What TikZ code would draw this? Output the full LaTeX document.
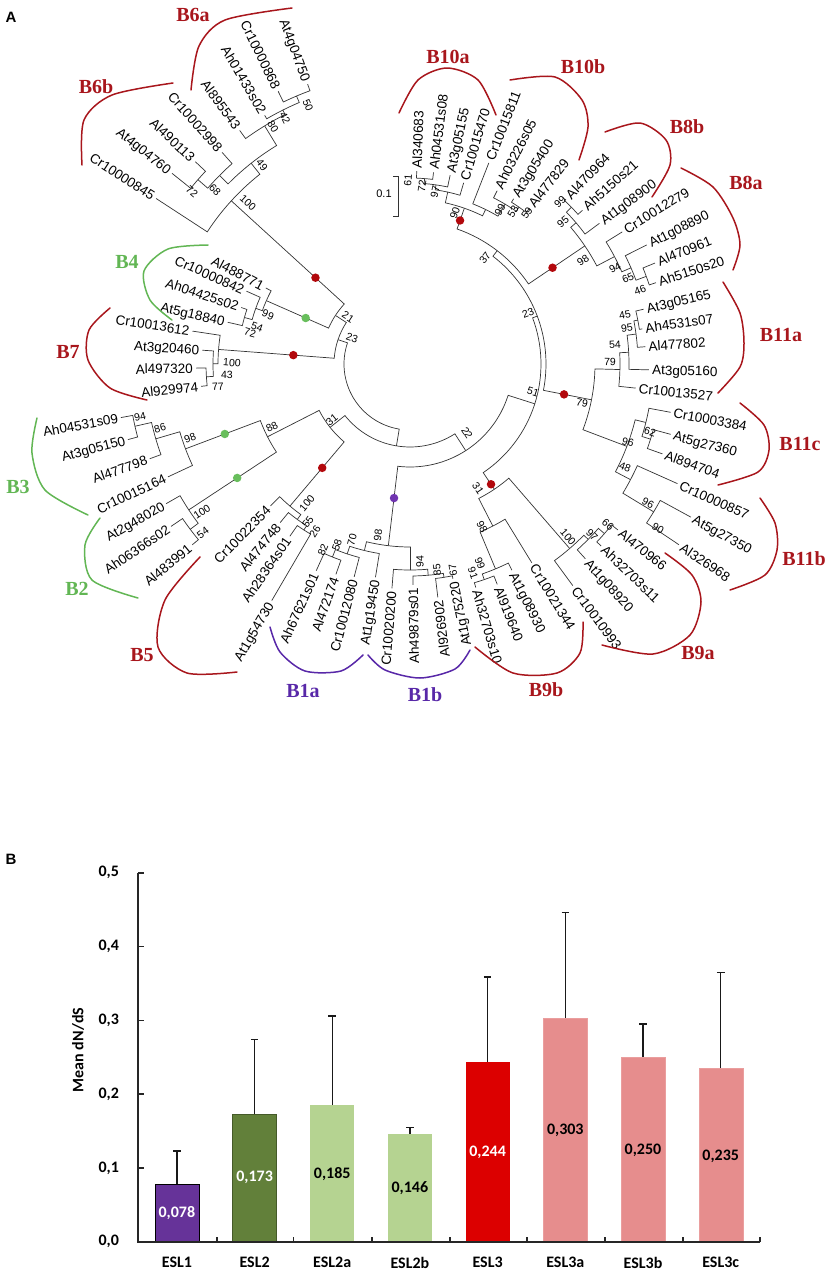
\documentclass[tikz,border=0pt]{standalone}
\usepackage{fontspec}
\setmainfont{Liberation Sans}
\newfontfamily\cladefont{Liberation Serif}
\newfontfamily\calib{Carlito}
\usetikzlibrary{calc}
\definecolor{cred}{RGB}{168,22,28}
\definecolor{cgreen}{RGB}{98,182,84}
\definecolor{cpurple}{RGB}{88,40,168}
\definecolor{dred}{RGB}{178,8,12}
\definecolor{dgreen}{RGB}{104,190,92}
\definecolor{dpurple}{RGB}{112,52,176}
\definecolor{bpurple}{RGB}{102,51,153}
\definecolor{bdgreen}{RGB}{98,128,58}
\definecolor{blgreen}{RGB}{181,211,145}
\definecolor{bred}{RGB}{220,0,0}
\definecolor{bpink}{RGB}{230,141,141}
\tikzset{
 br/.style={line width=0.7pt, draw=black!80},
 leaf/.style={font=\fontsize{13.5}{14}\selectfont, inner sep=1pt, text height=9.7pt, text depth=0pt},
 bs/.style={font=\fontsize{10.5}{11}\selectfont, inner sep=0pt},
 clade/.style={font=\cladefont\bfseries\fontsize{20}{21}\selectfont},
 brk/.style={line width=1.5pt, line cap=round},
 dot/.style={circle, inner sep=0pt, minimum size=8.5pt},
 ax/.style={line width=1.6pt, draw=black!85},
 bl/.style={font=\calib\bfseries\fontsize{16}{16}\selectfont},
 ebar/.style={line width=1.4pt, draw=black!90},
}
% parent theta, parent r, child theta, child r (theta clockwise from top)
\newcommand\tbr[4]{\draw[br] ({#1-90}:#2) arc[start angle={#1-90}, end angle={#3-90}, radius=#2] -- ({#3-90}:#4);}
\begin{document}
\begin{tikzpicture}[x=1pt,y=-1pt]
\useasboundingbox (0,0) rectangle (835,1272);
\node[font=\bfseries\fontsize{15}{15}\selectfont] (pA) at (11,17) {A};
\node[font=\bfseries\fontsize{15}{15}\selectfont] (pB) at (11,859) {B};

\begin{scope}[shift={(410,364)}]
% ---- B10
\tbr{4.5}{186}{2}{193}\tbr{4.5}{186}{7}{193}
\tbr{8.25}{181}{4.5}{186}\tbr{8.25}{181}{12}{193}
\tbr{12.375}{176}{8.25}{181}\tbr{12.375}{176}{16.5}{189}
\tbr{34.8}{191}{32.1}{195}\tbr{34.8}{191}{37.5}{196}
\tbr{30.75}{186}{26.7}{194}\tbr{30.75}{186}{34.8}{191}
\tbr{26.075}{172}{21.4}{216}\tbr{26.075}{172}{30.75}{186}
\tbr{19.225}{165}{12.375}{176}\tbr{19.225}{165}{26.075}{172}
% ---- B8
\tbr{45.85}{225}{43.4}{227}\tbr{45.85}{225}{48.3}{231}
\tbr{49.625}{218}{45.85}{225}\tbr{49.625}{218}{53.4}{236}
\tbr{69.65}{252}{67.6}{265}\tbr{69.65}{252}{71.7}{259}
\tbr{66.475}{241}{63.3}{265}\tbr{66.475}{241}{69.65}{252}
\tbr{62.29}{231}{58.1}{250}\tbr{62.29}{231}{66.475}{241}
\tbr{55.96}{211}{49.625}{218}\tbr{55.96}{211}{62.29}{231}
\tbr{37.59}{143}{19.225}{165}\tbr{37.59}{143}{55.96}{211}
% ---- B11
\tbr{79.1}{232}{76.8}{240}\tbr{79.1}{232}{81.4}{235}
\tbr{82.45}{228}{79.1}{232}\tbr{82.45}{228}{85.8}{236}
\tbr{86.925}{219}{82.45}{228}\tbr{86.925}{219}{91.4}{239}
\tbr{91.51}{210}{86.925}{219}\tbr{91.51}{210}{96.1}{227}
\tbr{107.35}{252}{105.1}{270}\tbr{107.35}{252}{109.6}{268}
\tbr{103.925}{243}{100.5}{265}\tbr{103.925}{243}{107.35}{252}
\tbr{121.25}{285}{118.6}{320}\tbr{121.25}{285}{123.9}{324}
\tbr{117.675}{249}{114.1}{293}\tbr{117.675}{249}{121.25}{285}
\tbr{110.8}{232}{103.925}{243}\tbr{110.8}{232}{117.675}{249}
\tbr{101.155}{185}{91.51}{210}\tbr{101.155}{185}{110.8}{232}
\tbr{69.37}{136}{37.59}{143}\tbr{69.37}{136}{101.155}{185}
% ---- B9
\tbr{131.1}{258}{128.6}{266}\tbr{131.1}{258}{133.6}{264}
\tbr{134.55}{250}{131.1}{258}\tbr{134.55}{250}{138}{262}
\tbr{139.125}{244}{134.55}{250}\tbr{139.125}{244}{143.7}{275}
\tbr{161}{228}{158.4}{237}\tbr{161}{228}{163.6}{233}
\tbr{157.35}{222}{153.7}{230}\tbr{157.35}{222}{161}{228}
\tbr{152.925}{182}{148.5}{233}\tbr{152.925}{182}{157.35}{222}
\tbr{146.025}{151}{139.125}{244}\tbr{146.025}{151}{152.925}{182}
\tbr{107.7}{131}{69.37}{136}\tbr{107.7}{131}{146.025}{151}
% ---- B1
\tbr{170.95}{216}{168.7}{219}\tbr{170.95}{216}{173.2}{235}
\tbr{175.075}{212}{170.95}{216}\tbr{175.075}{212}{179.2}{221}
\tbr{179.84}{206}{175.075}{212}\tbr{179.84}{206}{184.6}{225}
\tbr{201.9}{208}{199.4}{223}\tbr{201.9}{208}{204.4}{227}
\tbr{198.3}{200}{194.7}{220}\tbr{198.3}{200}{201.9}{208}
\tbr{193.75}{192}{189.2}{216}\tbr{193.75}{192}{198.3}{200}
\tbr{186.8}{183}{179.84}{206}\tbr{186.8}{183}{193.75}{192}
\tbr{147.25}{103}{107.7}{131}\tbr{147.25}{103}{186.8}{183}
% ---- B5
\tbr{212.6}{197}{210.3}{274}\tbr{212.6}{197}{214.9}{210}
\tbr{215.95}{192}{219.3}{205}\tbr{215.95}{192}{212.6}{197}
\tbr{220.2}{186}{224.5}{199}\tbr{220.2}{186}{215.95}{192}
% ---- B2 / B3
\tbr{233.05}{275}{230.3}{283}\tbr{233.05}{275}{235.8}{289}
\tbr{236.6}{265}{240.2}{281}\tbr{236.6}{265}{233.05}{275}
\tbr{257.25}{282}{255}{292}\tbr{257.25}{282}{259.5}{294}
\tbr{253.6}{265}{250}{277}\tbr{253.6}{265}{257.25}{282}
\tbr{249.3}{240}{245}{267}\tbr{249.3}{240}{253.6}{265}
\tbr{242.95}{160}{236.6}{265}\tbr{242.95}{160}{249.3}{240}
\tbr{231.6}{102}{220.2}{186}\tbr{231.6}{102}{242.95}{160}
\tbr{189.4}{83}{147.25}{103}\tbr{189.4}{83}{231.6}{102}
% ---- B7
\tbr{266.4}{204}{263.9}{210}\tbr{266.4}{204}{268.9}{214}
\tbr{270.1}{197}{273.8}{208}\tbr{270.1}{197}{266.4}{204}
\tbr{274.35}{192}{278.6}{220}\tbr{274.35}{192}{270.1}{197}
% ---- B4
\tbr{285.7}{172}{282.9}{187}\tbr{285.7}{172}{288.5}{178}
\tbr{289.85}{164}{294}{179}\tbr{289.85}{164}{285.7}{172}
\tbr{293.8}{157}{297.8}{163}\tbr{293.8}{157}{289.85}{164}
% ---- B6
\tbr{311}{281}{308.7}{305}\tbr{311}{281}{313.3}{295}
\tbr{314.7}{268}{311}{281}\tbr{314.7}{268}{318.4}{283}
\tbr{337.05}{291}{334.2}{303}\tbr{337.05}{291}{339.9}{298}
\tbr{333.4}{284}{329.7}{288}\tbr{333.4}{284}{337.05}{291}
\tbr{328.6}{279}{323.9}{289}\tbr{328.6}{279}{333.4}{284}
\tbr{321.65}{256}{314.7}{268}\tbr{321.65}{256}{328.6}{279}
\tbr{312.4}{242}{303.1}{303}\tbr{312.4}{242}{321.65}{256}
\tbr{303.1}{89}{293.8}{157}\tbr{303.1}{89}{312.4}{242}
\tbr{288.7}{76}{274.35}{192}\tbr{288.7}{76}{303.1}{89}
\tbr{239}{66}{189.4}{83}\tbr{239}{66}{288.7}{76}

% ---- dots
\node[dot, fill=dred] (d1) at ({19.225-90}:152) {};
\node[dot, fill=dred] (d2) at ({55.96-90}:172) {};
\node[dot, fill=dred] (d3) at ({101.155-90}:157) {};
\node[dot, fill=dred] (d4) at ({146.025-90}:145) {};
\node[dot, fill=dpurple] (d5) at ({186.8-90}:135) {};
\node[dot, fill=dred] (d6) at ({220.2-90}:136) {};
\node[dot, fill=dgreen] (d7) at ({236.6-90}:207) {};
\node[dot, fill=dgreen] (d8) at ({249.3-90}:198) {};
\node[dot, fill=dred] (d9) at ({274.35-90}:117) {};
\node[dot, fill=dgreen] (d10) at ({293.8-90}:114) {};
\node[dot, fill=dred] (d11) at ({312.4-90}:128) {};

% ---- leaf labels
\foreach \t/\r/\s [count=\i from 0] in {
2/196/Al340683, 7/196/Ah04531s08, 12/196/At3g05155, 16.5/192/Cr10015470,
21.4/219/Cr10015811, 26.7/197/Ah03226s05, 32.1/198/At3g05400, 37.5/199/Al477829,
43.4/230/Al470964, 48.3/234/Ah5150s21, 53.4/239/At1g08900,
58.1/253/Cr10012279, 63.3/268/At1g08890, 67.6/268/Al470961, 71.7/262/Ah5150s20,
76.8/243/At3g05165, 81.4/238/Ah4531s07, 85.8/239/Al477802, 91.4/242/At3g05160, 96.1/230/Cr10013527,
100.5/268/Cr10003384, 105.1/273/At5g27360, 109.6/271/Al894704,
114.1/296/Cr10000857, 118.6/323/At5g27350, 123.9/327/Al326968,
128.6/269/Al470966, 133.6/267/Ah32703s11, 138/265/At1g08920, 143.7/278/Cr10010993,
148.5/236/Cr10021344, 153.7/233/At1g08930, 158.4/240/Al919640, 163.6/236/Ah32703s10,
168.7/222/At1g75220, 173.2/238/Al926902, 179.2/224/Ah49879s01, 184.6/228/Cr10020200,
189.2/219/At1g19450, 194.7/223/Cr10012080, 199.4/226/Al472174, 204.4/230/Ah67621s01,
210.3/277/At1g54730, 214.9/213/Ah28364s01, 219.3/208/Al474748, 224.5/202/Cr10022354,
230.3/286/Al483991, 235.8/292/Ah06366s02, 240.2/284/At2g48020,
245/270/Cr10015164, 250/280/Al477798, 255/295/At3g05150, 259.5/297/Ah04531s09,
263.9/213/Al929974, 268.9/217/Al497320, 273.8/211/At3g20460, 278.6/223/Cr10013612,
282.9/190/At5g18840, 288.5/181/Ah04425s02, 294/182/Cr10000842, 297.8/166/Al488771,
303.1/306/Cr10000845, 308.7/308/At4g04760, 313.3/298/Al490113, 318.4/286/Cr10002998,
323.9/292/Al895543, 329.7/291/Ah01433s02, 334.2/306/Cr10000868, 339.9/301/At4g04750}{
  \pgfmathsetmacro\a{\t-90}
  \pgfmathsetmacro\rr{\r-1}
  \ifdim \t pt<165pt
    \pgfmathsetmacro\rot{90-\t}
    \node[leaf, anchor=west, rotate=\rot] (L\i) at (\a:\rr) {\s};
  \else
    \pgfmathsetmacro\rot{270-\t}
    \node[leaf, anchor=east, rotate=\rot] (L\i) at (\a:\rr) {\s};
  \fi
}
\end{scope}

% ---- bootstrap values
\foreach \x/\y/\t/\v [count=\j] in {
408/180/4.5/61, 422/186/8.25/72, 435/192/12.4/97, 455/213/19.2/90, 500/210/26.1/99, 513/212/30.75/53, 527/213/34.8/59,
560/202/45.85/99, 563/222/49.6/95, 583/260/56/98, 615/268/62.3/94, 628/278/66.5/65, 640/290/69.65/46,
485/258/37.6/37, 528/313/69.4/23,
625/315/79.1/45, 627/328/82.45/95, 615/345/86.9/54, 610/362/91.5/79, 582/403/101.2/79, 533/392/107.7/51,
650/432/107.35/62, 628/442/103.9/96, 625/467/110.8/48, 648/503/117.7/96, 658/528/121.25/90,
467/433/147.25/22, 478/488/146/31, 482/527/152.9/98, 568/537/139.1/100, 592/535/134.55/97, 608/525/131.1/66, 480/563/157.35/99, 473/573/161/91,
378/535/186.8/98, 420/562/179.8/94, 437/570/175.1/85, 453/570/170.95/67, 323/550/201.9/82, 337/545/198.3/58, 352/540/193.75/70,
307/503/220.2/100, 308/522/215.95/55, 315/532/212.6/26,
272/427/242.95/88, 332/420/231.6/31,
140/417/257.25/94, 160/428/253.6/86, 190/438/249.3/98, 202/512/236.6/100, 203/533/233/54,
232/363/274.35/100, 227/375/270.1/43, 218/387/266.4/77,
268/315/293.8/99, 257/327/289.85/54, 250/333/285.7/72,
348/317/303.1/21, 352/338/288.7/23,
248/203/312.4/100, 262/165/321.65/49, 215/190/314.7/68, 192/192/311/72, 273/127/328.6/80, 285/118/333.4/42, 308/105/337/50}{
  \ifdim \t pt<165pt \pgfmathsetmacro\rot{90-\t}\else\pgfmathsetmacro\rot{270-\t}\fi
  \node[bs, rotate=\rot] (bs\j) at (\x,\y) {\v};
}

% ---- scale bar
\coordinate (sb1) at (393,176); \coordinate (sb2) at (398,176);
\coordinate (sb3) at (398,216); \coordinate (sb4) at (393,216);
\draw[br] (sb1) -- (sb2) -- (sb3) -- (sb4);
\node[bs, font=\fontsize{11}{11}\selectfont] (sbl) at (384,194) {0.1};

% ---- clade brackets
\draw[brk, cred] plot[smooth] coordinates {(191,90) (199,46) (225,20) (292,8)};
\draw[brk, cred] plot[smooth] coordinates {(82,165) (84,120) (112,95) (173,83)};
\draw[brk, cred] plot[smooth] coordinates {(399,113) (418,80) (447,68) (478,80) (496,115)};
\draw[brk, cred] plot[smooth] coordinates {(510,80) (555,77) (582,100) (588,127) (579,160)};
\draw[brk, cred] plot[smooth] coordinates {(605,132) (640,123) (666,140) (670,165) (652,197)};
\draw[brk, cred] plot[smooth] coordinates {(681,168) (713,187) (733,218) (740,245) (733,270)};
\draw[brk, cred] plot[smooth] coordinates {(723,282) (740,313) (744,343) (740,367) (718,393)};
\draw[brk, cred] plot[smooth] coordinates {(740,403) (764,425) (769,450) (758,472) (718,485)};
\draw[brk, cred] plot[smooth] coordinates {(760,498) (775,523) (777,550) (765,575) (730,590)};
\draw[brk, cred] plot[smooth] coordinates {(665,553) (692,575) (701,602) (690,635) (653,654) (602,645)};
\draw[brk, cred] plot[smooth] coordinates {(583,622) (580,653) (557,673) (513,673) (475,647)};
\draw[brk, cpurple] plot[smooth] coordinates {(470,650) (455,669) (420,678) (385,670) (368,655)};
\draw[brk, cpurple] plot[smooth] coordinates {(363,655) (341,671) (305,671) (280,652) (270,627)};
\draw[brk, cred] plot[smooth] coordinates {(200,557) (165,600) (158,647) (187,673) (237,672)};
\draw[brk, cgreen] plot[smooth] coordinates {(100,518) (85,545) (92,580) (138,598)};
\draw[brk, cgreen] plot[smooth] coordinates {(37,418) (32,453) (45,490) (88,515)};
\draw[brk, cred] plot[smooth] coordinates {(110,308) (89,330) (88,360) (110,388) (147,400)};
\draw[brk, cgreen] plot[smooth] coordinates {(208,245) (168,249) (144,271) (150,300) (172,320)};

% ---- clade labels
\node[clade, text=cred] (cB6a) at (193,15) {B6a};
\node[clade, text=cred] (cB6b) at (96,87) {B6b};
\node[clade, text=cred] (cB10a) at (448,57) {B10a};
\node[clade, text=cred] (cB10b) at (583,67) {B10b};
\node[clade, text=cred] (cB8b) at (687,127) {B8b};
\node[clade, text=cred] (cB8a) at (746,183) {B8a};
\node[clade, text=cred] (cB11a) at (781,335) {B11a};
\node[clade, text=cred] (cB11c) at (800,444) {B11c};
\node[clade, text=cred] (cB11b) at (804,559) {B11b};
\node[clade, text=cred] (cB9a) at (698,653) {B9a};
\node[clade, text=cred] (cB9b) at (546,690) {B9b};
\node[clade, text=cpurple] (cB1b) at (425,695) {B1b};
\node[clade, text=cpurple] (cB1a) at (303,691) {B1a};
\node[clade, text=cred] (cB5) at (142,655) {B5};
\node[clade, text=cgreen] (cB2) at (77,589) {B2};
\node[clade, text=cgreen] (cB3) at (18,487) {B3};
\node[clade, text=cred] (cB7) at (68,352) {B7};
\node[clade, text=cgreen] (cB4) at (127,262) {B4};

% ================= bar chart =================
\draw[fill=bpurple, draw=black, line width=1pt] (155,1184.1) rectangle (199,1241.7);
\draw[fill=bdgreen, draw=bdgreen!70!black, line width=1pt] (232.6,1114.0) rectangle (276.6,1241.7);
\fill[blgreen] (310.2,1105.2) rectangle (354.2,1241.7);
\fill[blgreen] (387.9,1134.0) rectangle (431.9,1241.7);
\fill[bred] (465.6,1061.6) rectangle (509.6,1241.7);
\draw[fill=bpink, draw=bpink!85!white] (543.3,1018.1) rectangle (587.3,1241.7);
\draw[fill=bpink, draw=bpink!85!white] (621,1057.2) rectangle (665,1241.7);
\draw[fill=bpink, draw=bpink!85!white] (698.7,1068.3) rectangle (742.7,1241.7);
\foreach \c/\top/\e [count=\k] in {176.9/1184.1/1151.0, 254.6/1114.0/1039.5, 332.2/1105.2/1015.9, 409.9/1134.0/1127.7,
  487.6/1061.6/976.8, 565.3/1018.1/912.6, 643.0/1057.2/1024.0, 720.7/1068.3/972.7}{
  \coordinate (eb\k) at (\c,\top); \coordinate (et\k) at (\c,\e);
  \draw[ebar] (eb\k) -- (et\k);
  \draw[ebar] ($(et\k)+(-3.8,0)$) -- ($(et\k)+(3.8,0)$);
}
\coordinate (O) at (138,1241.7);
\coordinate (Ytop) at (138,872.7);
\coordinate (Xend) at (760,1241.7);
\draw[ax] (Ytop) -- (O) -- (Xend);
\foreach \yy in {872.7,946.5,1020.3,1094.1,1167.9}{\draw[ax] (138,\yy) -- (143.5,\yy);}
\foreach \xx in {216.7,293.3,371.7,450,526.7,605,682.7,760}{\draw[ax] (\xx,1241.7) -- (\xx,1236.5);}
\node[bl, anchor=east] (t0) at (122.5,1241.7) {0,0};
\node[bl, anchor=east] (t1) at (122.5,1167.9) {0,1};
\node[bl, anchor=east] (t2) at (122.5,1094.1) {0,2};
\node[bl, anchor=east] (t3) at (122.5,1020.3) {0,3};
\node[bl, anchor=east] (t4) at (122.5,946.5) {0,4};
\node[bl, anchor=east] (t5) at (122.5,872.7) {0,5};
\node[bl, rotate=90] (ytitle) at (78,1050) {Mean dN/dS};
\node[bl] (c1) at (176.9,1262.7) {ESL1};
\node[bl] (c2) at (254.6,1262.7) {ESL2};
\node[bl] (c3) at (332.2,1262.7) {ESL2a};
\node[bl] (c4) at (409.9,1262.7) {ESL2b};
\node[bl] (c5) at (487.6,1262.7) {ESL3};
\node[bl] (c6) at (565.3,1262.7) {ESL3a};
\node[bl] (c7) at (643.0,1262.7) {ESL3b};
\node[bl] (c8) at (720.7,1262.7) {ESL3c};
\node[bl, text=white] (v1) at (176.9,1213) {0,078};
\node[bl, text=white] (v2) at (254.6,1177.7) {0,173};
\node[bl] (v3) at (332.2,1174) {0,185};
\node[bl] (v4) at (409.9,1187.7) {0,146};
\node[bl, text=white] (v5) at (487.6,1152) {0,244};
\node[bl] (v6) at (565.3,1130) {0,303};
\node[bl] (v7) at (643.0,1150) {0,250};
\node[bl] (v8) at (720.7,1156) {0,235};
\end{tikzpicture}
\end{document}
